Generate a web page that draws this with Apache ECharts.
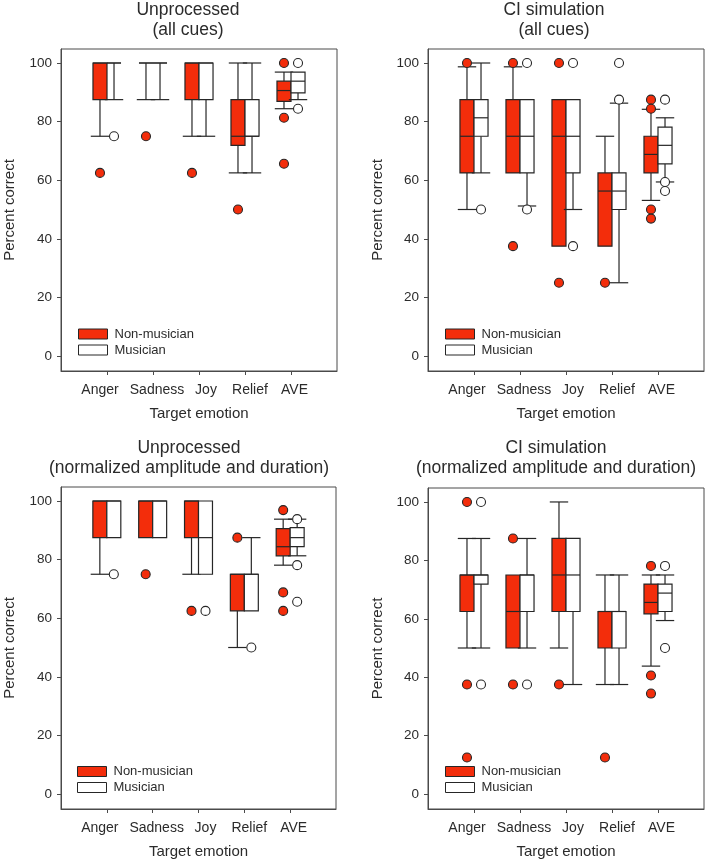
<!DOCTYPE html>
<html>
<head>
<meta charset="utf-8">
<script src="https://cdn.jsdelivr.net/npm/echarts@6/dist/echarts.min.js"></script>
<style>
html,body{margin:0;padding:0;background:#fff;}
#chart{width:708px;height:866px;}
</style>
</head>
<body>
<div id="chart"></div>
<script>
// ---------- data ----------
const categories = ['Anger', 'Sadness', 'Joy', 'Relief', 'AVE'];
const yTicks = [0, 20, 40, 60, 80, 100];
const groups = ['Non-musician', 'Musician'];

// each row: [min whisker, Q1, median, Q3, max whisker] per category
const unprocAllNM = [[75, 87.5, 100, 100, 100], [87.5, 100, 100, 100, 100], [75, 87.5, 100, 100, 100], [62.5, 71.9, 75, 87.5, 100], [84.4, 86.9, 90.6, 93.8, 96.9]];
const unprocAllM  = [[87.5, 100, 100, 100, 100], [87.5, 100, 100, 100, 100], [75, 87.5, 100, 100, 100], [62.5, 75, 75, 87.5, 100], [87.5, 89.8, 93.8, 96.9, 96.9]];
const ciAllNM     = [[50, 62.5, 75, 87.5, 98.7], [62.5, 62.5, 75, 87.5, 98.7], [37.5, 37.5, 75, 87.5, 87.5], [37.5, 37.5, 56.3, 62.5, 75], [53.1, 62.5, 68.8, 75, 84.2]];
const ciAllM      = [[62.5, 75, 81.3, 87.5, 100], [51.2, 62.5, 75, 87.5, 87.5], [50, 62.5, 75, 87.5, 87.5], [25, 50, 56.3, 62.5, 86.3], [59.4, 65.6, 71.9, 78.1, 81.3]];
const unprocNormNM = [[75, 87.5, 100, 100, 100], [87.5, 87.5, 100, 100, 100], [75, 87.5, 100, 100, 100], [50, 62.5, 75, 75, 75], [78.1, 81.3, 84.4, 90.6, 93.8]];
const unprocNormM  = [[87.5, 87.5, 100, 100, 100], [87.5, 87.5, 100, 100, 100], [75, 75, 87.5, 100, 100], [62.5, 62.5, 75, 75, 87.5], [81.3, 84.4, 87.5, 90.9, 93.8]];
const ciNormNM     = [[50, 62.5, 75, 75, 87.5], [50, 50, 62.5, 75, 75], [50, 62.5, 75, 87.5, 100], [37.5, 50, 62.5, 62.5, 75], [43.8, 61.7, 65.6, 71.9, 75]];
const ciNormM      = [[50, 71.9, 75, 75, 87.5], [50, 62.5, 75, 75, 87.5], [37.5, 62.5, 75, 87.5, 87.5], [37.5, 50, 62.5, 62.5, 75], [59.4, 62.5, 68.8, 71.9, 75]];

// outliers: [category index, value]
const unprocAllNMOut  = [[0, 62.5], [1, 75], [2, 62.5], [3, 50], [4, 100], [4, 81.3], [4, 65.6]];
const unprocAllMOut   = [[0, 75], [4, 100], [4, 84.4]];
const ciAllNMOut      = [[0, 100], [1, 100], [1, 37.5], [2, 100], [2, 25], [3, 25], [4, 87.5], [4, 84.4], [4, 50], [4, 46.9]];
const ciAllMOut       = [[0, 50], [1, 100], [1, 50], [2, 100], [2, 37.5], [3, 100], [3, 87.5], [4, 87.5], [4, 59.4], [4, 56.3]];
const unprocNormNMOut = [[1, 75], [2, 62.5], [3, 87.5], [4, 96.9], [4, 68.8], [4, 62.5]];
const unprocNormMOut  = [[0, 75], [2, 62.5], [3, 50], [4, 93.8], [4, 78.1], [4, 65.6]];
const ciNormNMOut     = [[0, 100], [0, 37.5], [0, 12.5], [1, 87.5], [1, 37.5], [2, 37.5], [3, 12.5], [4, 78.1], [4, 40.6], [4, 34.4]];
const ciNormMOut      = [[0, 100], [0, 37.5], [1, 37.5], [4, 78.1], [4, 50]];

const titles = [
  'Unprocessed\n(all cues)',
  'CI simulation\n(all cues)',
  'Unprocessed\n(normalized amplitude and duration)',
  'CI simulation\n(normalized amplitude and duration)'
];

// ---------- styling / layout ----------
const RED = '#f32d0b';
const WHITE = '#ffffff';
const LINE = '#262626';
const FRAME = '#4a4a4a';
const TXT = '#2b2b2b';
const FONT = '"Liberation Sans", Arial, sans-serif';
const LW = 1.2;
const BOX_FRAC = 0.305;
const CAP_FRAC = 0.40;
const OFFSET = BOX_FRAC / 2;
// horizontal nudge of each category label (px), as in the original figure
const LABEL_NUDGE = [-7, 4, 7, 5, 3.5];

const panels = [
  {grid: {left: 61, top: 49, width: 276, height: 322}, title: {x: 188, y: 0}, legend: {x: 78, y: 327}, nm: unprocAllNM, m: unprocAllM, nmOut: unprocAllNMOut, mOut: unprocAllMOut, yGap: 44},
  {grid: {left: 428, top: 49, width: 276, height: 322}, title: {x: 554, y: 0}, legend: {x: 445, y: 327}, nm: ciAllNM, m: ciAllM, nmOut: ciAllNMOut, mOut: ciAllMOut, yGap: 43},
  {grid: {left: 61, top: 487, width: 275, height: 322}, title: {x: 189, y: 438}, legend: {x: 77, y: 764.5}, nm: unprocNormNM, m: unprocNormM, nmOut: unprocNormNMOut, mOut: unprocNormMOut, yGap: 44},
  {grid: {left: 428, top: 488, width: 276, height: 321}, title: {x: 556, y: 438}, legend: {x: 445, y: 764.5}, nm: ciNormNM, m: ciNormM, nmOut: ciNormNMOut, mOut: ciNormMOut, yGap: 43}
];

function makeRender(fill) {
  return function (params, api) {
    const x = api.value(0), lo = api.value(1), q1 = api.value(2), med = api.value(3), q3 = api.value(4), hi = api.value(5);
    const unit = api.size([1, 0])[0];
    const bw = unit * BOX_FRAC, cw = unit * CAP_FRAC;
    const pLo = api.coord([x, lo]), pQ1 = api.coord([x, q1]), pMed = api.coord([x, med]), pQ3 = api.coord([x, q3]), pHi = api.coord([x, hi]);
    const cx = pQ1[0];
    const ls = {stroke: LINE, lineWidth: LW};
    const ch = [];
    if (hi > q3) {
      ch.push({type: 'line', shape: {x1: cx, y1: pQ3[1], x2: cx, y2: pHi[1]}, style: ls});
      ch.push({type: 'line', shape: {x1: cx - cw / 2, y1: pHi[1], x2: cx + cw / 2, y2: pHi[1]}, style: ls});
    }
    if (lo < q1) {
      ch.push({type: 'line', shape: {x1: cx, y1: pQ1[1], x2: cx, y2: pLo[1]}, style: ls});
      ch.push({type: 'line', shape: {x1: cx - cw / 2, y1: pLo[1], x2: cx + cw / 2, y2: pLo[1]}, style: ls});
    }
    ch.push({type: 'rect', shape: {x: cx - bw / 2, y: pQ3[1], width: bw, height: pQ1[1] - pQ3[1]}, style: {fill: fill, stroke: LINE, lineWidth: LW}});
    ch.push({type: 'line', shape: {x1: cx - bw / 2, y1: pMed[1], x2: cx + bw / 2, y2: pMed[1]}, style: ls});
    return {type: 'group', children: ch};
  };
}

const rich = {};
LABEL_NUDGE.forEach((n, k) => {
  rich['c' + k] = {fontSize: 14, color: TXT, fontFamily: FONT,
    padding: n < 0 ? [0, -2 * n, 0, 0] : [0, 0, 0, 2 * n]};
});

const option = {
  animation: false,
  backgroundColor: '#ffffff',
  textStyle: {fontFamily: FONT, color: TXT},
  title: [], grid: [], xAxis: [], yAxis: [], legend: [], series: []
};

panels.forEach((p, i) => {
  option.title.push({
    text: titles[i], left: p.title.x, top: p.title.y, padding: 0, textAlign: 'center',
    textStyle: {fontFamily: FONT, fontSize: 17.5, fontWeight: 'normal', color: TXT, lineHeight: 20}
  });
  option.grid.push(Object.assign({show: true, borderColor: FRAME, borderWidth: 1, backgroundColor: 'transparent'}, p.grid));
  option.xAxis.push({
    type: 'value', gridIndex: i, min: 0, max: 6,
    axisLine: {show: true, onZero: false, lineStyle: {color: FRAME, width: 1}},
    axisTick: {show: true, customValues: [1, 2, 3, 4, 5], length: 4, lineStyle: {color: FRAME}},
    axisLabel: {
      customValues: [1, 2, 3, 4, 5],
      formatter: v => { const k = Math.round(v) - 1; return categories[k] ? '{c' + k + '|' + categories[k] + '}' : ''; },
      rich: rich, margin: 12, fontSize: 14, color: TXT, fontFamily: FONT
    },
    splitLine: {show: false},
    name: 'Target emotion', nameLocation: 'middle', nameGap: 35,
    nameTextStyle: {fontSize: 15, color: TXT, fontFamily: FONT}
  });
  option.yAxis.push({
    type: 'value', gridIndex: i, min: -5.12, max: 104.78,
    axisLine: {show: true, onZero: false, lineStyle: {color: FRAME, width: 1}},
    axisTick: {show: true, customValues: yTicks, length: 4, lineStyle: {color: FRAME}},
    axisLabel: {customValues: yTicks, margin: 9, fontSize: 13.5, color: TXT, fontFamily: FONT},
    splitLine: {show: false},
    name: 'Percent correct', nameLocation: 'middle', nameGap: p.yGap,
    nameTextStyle: {fontSize: 15, color: TXT, fontFamily: FONT}
  });
  option.legend.push({
    orient: 'vertical', left: p.legend.x, top: p.legend.y, padding: 0, itemGap: 2,
    itemWidth: 29, itemHeight: 10, selectedMode: false,
    textStyle: {fontSize: 13, color: TXT, fontFamily: FONT, lineHeight: 14, padding: [0, 0, 0, 2]},
    data: [
      {name: groups[0], icon: 'rect', itemStyle: {color: RED, borderColor: LINE, borderWidth: 1}},
      {name: groups[1], icon: 'rect', itemStyle: {color: WHITE, borderColor: LINE, borderWidth: 1}}
    ]
  });
  [[p.nm, p.nmOut, RED, -OFFSET, groups[0]], [p.m, p.mOut, WHITE, OFFSET, groups[1]]].forEach(([boxes, outs, fill, off, name]) => {
    option.series.push({
      type: 'custom', name: name, xAxisIndex: i, yAxisIndex: i,
      itemStyle: {color: fill, borderColor: LINE},
      renderItem: makeRender(fill),
      encode: {x: 0, y: [1, 2, 3, 4, 5]},
      data: boxes.map((b, k) => [k + 1 + off].concat(b)),
      z: 2
    });
    option.series.push({
      type: 'scatter', name: name + ' outliers', xAxisIndex: i, yAxisIndex: i,
      symbol: 'circle', symbolSize: 9,
      itemStyle: {color: fill, borderColor: LINE, borderWidth: 1.1, opacity: 1},
      data: outs.map(o => [o[0] + 1 + off, o[1]]),
      z: 3
    });
  });
});

const chart = echarts.init(document.getElementById('chart'), null, {renderer: 'canvas'});
chart.setOption(option);
</script>
</body>
</html>
